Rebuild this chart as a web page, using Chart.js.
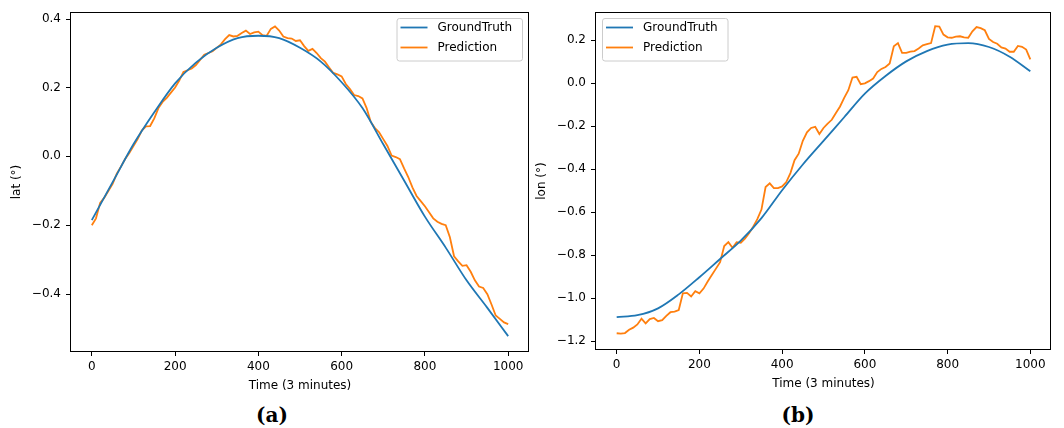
<!DOCTYPE html>
<html>
<head>
<meta charset="utf-8">
<script src="https://cdn.jsdelivr.net/npm/chart.js@4.4.1/dist/chart.umd.min.js"></script>
<style>
  body { margin: 0; background: #fff; width: 1064px; height: 428px; position: relative; overflow: hidden; }
  .box { position: absolute; top: 0; height: 400px; }
  .cap { position: absolute; top: 403px; width: 60px; text-align: center; font: bold 20px "DejaVu Serif", serif; color: #000; }
</style>
</head>
<body>
<div class="box" style="left:0;width:530px"><canvas id="latChart" width="530" height="400"></canvas></div>
<div class="box" style="left:530px;width:534px"><canvas id="lonChart" width="534" height="400"></canvas></div>
<div class="cap" style="left:242px">(a)</div>
<div class="cap" style="left:768px">(b)</div>
<script>
// DONNEES ---------------------------------------------------------------
const seriesNames = ['GroundTruth', 'Prediction'];
const xTicks = [0, 200, 400, 600, 800, 1000];

const gtTime = [0, 50, 100, 150, 200, 250, 300, 350, 400, 450, 500, 550, 600, 650, 700, 750, 800, 850, 900, 950, 1000];
const predTime = [0, 10, 20, 30, 40, 50, 60, 70, 80, 90, 100, 110, 120, 130, 140, 150, 160, 170, 180, 190,
  200, 210, 220, 230, 240, 250, 260, 270, 280, 290, 300, 310, 320, 330, 340, 350, 360, 370, 380, 390,
  400, 410, 420, 430, 440, 450, 460, 470, 480, 490, 500, 510, 520, 530, 540, 550, 560, 570, 580, 590,
  600, 610, 620, 630, 640, 650, 660, 670, 680, 690, 700, 710, 720, 730, 740, 750, 760, 770, 780, 790,
  800, 810, 820, 830, 840, 850, 860, 870, 880, 890, 900, 910, 920, 930, 940, 950, 960, 970, 980, 990, 1000];

// latitude (a)
const latTicks = [-0.4, -0.2, 0.0, 0.2, 0.4];
const latTickLabels = ['−0.4', '−0.2', '0.0', '0.2', '0.4'];
const latTruth = [-0.185, -0.075, 0.035, 0.128, 0.212, 0.272, 0.315, 0.343, 0.35, 0.343, 0.315,
  0.275, 0.215, 0.14, 0.035, -0.07, -0.175, -0.265, -0.36, -0.44, -0.522];
const latPred = [-0.2, -0.18, -0.135, -0.12, -0.1, -0.08, -0.05, -0.03, -0.008, 0.01,
  0.03, 0.05, 0.075, 0.087, 0.088, 0.11, 0.14, 0.158, 0.17, 0.185,
  0.2, 0.22, 0.245, 0.25, 0.255, 0.265, 0.28, 0.295, 0.3, 0.305,
  0.315, 0.325, 0.34, 0.352, 0.348, 0.35, 0.358, 0.365, 0.355, 0.36,
  0.362, 0.352, 0.35, 0.37, 0.377, 0.365, 0.348, 0.343, 0.342, 0.335,
  0.337, 0.32, 0.306, 0.312, 0.3, 0.285, 0.275, 0.258, 0.242, 0.238,
  0.232, 0.21, 0.195, 0.178, 0.175, 0.168, 0.14, 0.1, 0.082, 0.07,
  0.05, 0.03, 0.002, -0.002, -0.008, -0.035, -0.06, -0.09, -0.115, -0.13,
  -0.145, -0.162, -0.18, -0.19, -0.196, -0.2, -0.235, -0.29, -0.305, -0.318,
  -0.316, -0.335, -0.36, -0.378, -0.382, -0.4, -0.43, -0.462, -0.472, -0.482, -0.487];

// longitude (b)
const lonTicks = [-1.2, -1.0, -0.8, -0.6, -0.4, -0.2, 0.0, 0.2];
const lonTickLabels = ['−1.2', '−1.0', '−0.8', '−0.6', '−0.4', '−0.2', '0.0', '0.2'];
const lonTruth = [-1.091, -1.082, -1.05, -0.985, -0.905, -0.82, -0.735, -0.63, -0.5, -0.38, -0.27,
  -0.16, -0.05, 0.032, 0.1, 0.148, 0.178, 0.185, 0.167, 0.122, 0.054];
const lonPred = [-1.166, -1.168, -1.165, -1.15, -1.14, -1.125, -1.098, -1.12, -1.1, -1.095,
  -1.11, -1.105, -1.085, -1.068, -1.065, -1.058, -0.98, -0.978, -0.995, -0.97,
  -0.98, -0.958, -0.925, -0.895, -0.865, -0.835, -0.76, -0.742, -0.768, -0.742,
  -0.745, -0.725, -0.7, -0.67, -0.635, -0.59, -0.485, -0.468, -0.49, -0.49,
  -0.482, -0.462, -0.42, -0.36, -0.33, -0.27, -0.23, -0.21, -0.205, -0.238,
  -0.21, -0.19, -0.172, -0.14, -0.11, -0.07, -0.034, 0.025, 0.028, -0.006,
  -0.002, 0.008, 0.02, 0.05, 0.065, 0.074, 0.09, 0.17, 0.185, 0.14,
  0.14, 0.145, 0.148, 0.16, 0.175, 0.18, 0.185, 0.264, 0.262, 0.225,
  0.212, 0.21, 0.215, 0.217, 0.212, 0.21, 0.24, 0.26, 0.255, 0.245,
  0.205, 0.19, 0.182, 0.165, 0.16, 0.145, 0.145, 0.172, 0.168, 0.155, 0.109];

// STYLE ---------------------------------------------------------------
const FONT = 'DejaVu Sans';
const BLUE = '#1f77b4';
const ORANGE = '#ff7f0e';

// cadre complet + graduations y + legende facon matplotlib
const mplPlugin = {
  id: 'mpl',
  afterDraw(chart, args, opts) {
    const c = chart.ctx;
    const a = chart.chartArea;
    const L = Math.round(a.left), T = Math.round(a.top);
    const R = Math.round(a.right), B = Math.round(a.bottom);
    c.save();
    c.fillStyle = '#000';
    c.fillRect(L - 1, T, R - L + 1, 1);   // haut
    c.fillRect(L - 1, B - 1, R - L + 1, 1); // bas
    c.fillRect(L - 1, T, 1, B - T);       // gauche
    c.fillRect(R - 1, T, 1, B - T);       // droite
    const ys = chart.scales.y;
    ys.ticks.forEach(t => {
      const py = Math.round(ys.getPixelForValue(t.value));
      c.fillRect(L - 5, py, 4, 1);
    });

    // legende
    const w = 125.5, h = 42.5;
    const x0 = opts.side === 'right' ? R - 7 - w : L + 6;
    const y0 = T + 6;
    c.beginPath();
    c.roundRect(x0 + 0.5, y0 + 0.5, w, h, 2.5);
    c.fillStyle = 'rgba(255,255,255,0.8)';
    c.fill();
    c.strokeStyle = '#cccccc';
    c.lineWidth = 1;
    c.stroke();
    c.font = '12px ' + FONT;
    c.textBaseline = 'middle';
    c.textAlign = 'left';
    chart.data.datasets.forEach((ds, i) => {
      const yy = y0 + 9.5 + i * 20;
      c.beginPath();
      c.moveTo(x0 + 4, yy);
      c.lineTo(x0 + 31, yy);
      c.strokeStyle = ds.borderColor;
      c.lineWidth = 1.8;
      c.stroke();
      c.fillStyle = '#000';
      c.fillText(ds.label, x0 + 41, yy + 0.5);
    });
    c.restore();
  }
};

function makeChart(id, truth, pred, yTicks, yLabels, yMin, yMax, yTitle, cfg) {
  return new Chart(document.getElementById(id), {
    type: 'line',
    data: {
      datasets: [
        {
          label: seriesNames[0],
          data: gtTime.map((t, i) => ({ x: t, y: truth[i] })),
          borderColor: BLUE,
          borderWidth: 1.8,
          pointRadius: 0,
          cubicInterpolationMode: 'monotone',
          fill: false
        },
        {
          label: seriesNames[1],
          data: predTime.map((t, i) => ({ x: t, y: pred[i] })),
          borderColor: ORANGE,
          borderWidth: 1.8,
          pointRadius: 0,
          tension: 0,
          fill: false
        }
      ]
    },
    options: {
      responsive: false,
      animation: false,
      devicePixelRatio: 1,
      layout: { padding: { top: 12, right: cfg.padRight, left: 0, bottom: 0 } },
      plugins: {
        legend: { display: false },
        tooltip: { enabled: false },
        mpl: { side: cfg.legendSide }
      },
      scales: {
        x: {
          type: 'linear',
          min: -50,
          max: 1050,
          afterBuildTicks: s => { s.ticks = xTicks.map(v => ({ value: v })); },
          afterFit: s => { s.height = cfg.xHeight; },
          grid: { display: true, drawOnChartArea: false, drawTicks: true, tickLength: 4, color: '#000', lineWidth: 1 },
          border: { display: false },
          ticks: { autoSkip: false, maxRotation: 0, padding: 4, color: '#000', font: { family: FONT, size: 12 },
            callback: v => String(v) },
          title: { display: true, text: 'Time (3 minutes)', color: '#000', font: { family: FONT, size: 12 },
            padding: { top: 0, bottom: cfg.xTitlePad } }
        },
        y: {
          type: 'linear',
          min: yMin,
          max: yMax,
          afterBuildTicks: s => { s.ticks = yTicks.map(v => ({ value: v })); },
          afterFit: s => { s.width = cfg.yWidth; },
          grid: { display: true, drawOnChartArea: false, drawTicks: true, tickLength: 7, color: 'rgba(0,0,0,0)' },
          border: { display: false },
          ticks: { autoSkip: false, padding: 3, color: '#000', font: { family: FONT, size: 12 },
            callback: (v, i) => yLabels[i] },
          title: { display: true, text: yTitle, color: '#000', font: { family: FONT, size: 12 },
            padding: { top: cfg.yTitlePad, bottom: 0 } }
        }
      }
    },
    plugins: [mplPlugin]
  });
}

makeChart('latChart', latTruth, latPred, latTicks, latTickLabels, -0.568, 0.419, 'lat (°)',
  { padRight: 1, xHeight: 48, yWidth: 71, xTitlePad: 7, yTitlePad: 9.8, legendSide: 'right' });
makeChart('lonChart', lonTruth, lonPred, lonTicks, lonTickLabels, -1.244, 0.33, 'lon (°)',
  { padRight: 13, xHeight: 50, yWidth: 66, xTitlePad: 9, yTitlePad: 5, legendSide: 'left' });
</script>
</body>
</html>
